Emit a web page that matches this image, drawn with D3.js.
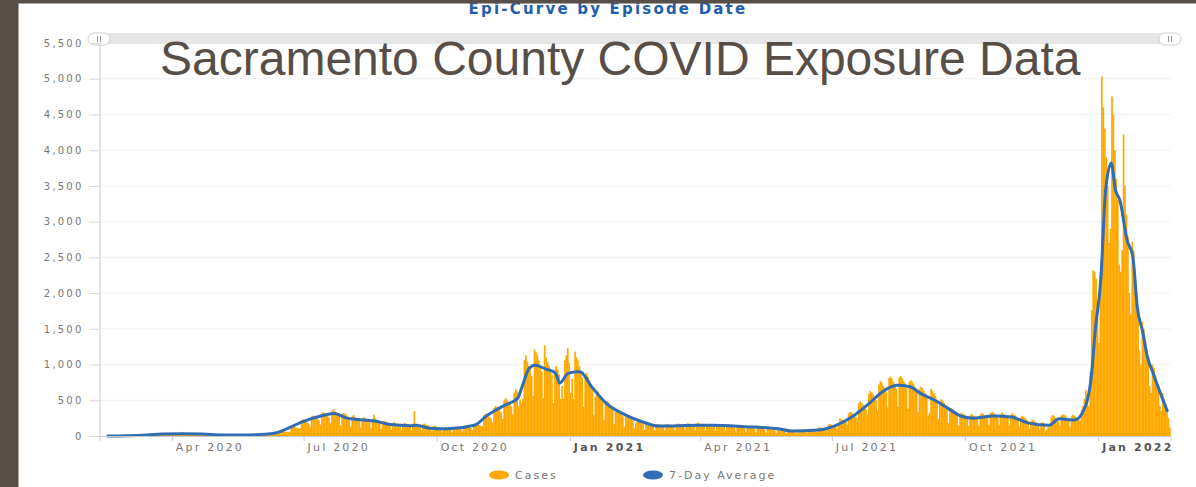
<!DOCTYPE html>
<html>
<head>
<meta charset="utf-8">
<script src="https://cdn.jsdelivr.net/npm/d3@7"></script>
<style>
  body { margin: 0; background: #fff; }
  svg { display: block; }
</style>
</head>
<body>
<script>
// chart box
const d_margin = {top: 43, left: 99.5, right: 1170.5, bottom: 436};
const v_width = 1196, v_height = 487;

// daily cases, one row per week (Sun..Sat), first day 2020-02-16
const startDay = "2020-02-16";
const dailyCases = [
  0,1,2,3,2,3,1,
  1,3,4,3,5,4,2,
  2,5,6,7,6,5,3,
  5,10,12,13,12,11,6,
  12,22,25,24,22,20,14,
  18,34,36,33,35,31,20,
  20,38,36,42,34,33,22,
  22,36,40,58,35,32,20,
  18,35,36,33,32,30,20,
  17,32,33,30,31,28,18,
  14,28,30,28,27,25,16,
  8,18,19,17,16,15,10,
  6,14,15,13,14,12,8,
  7,16,17,15,16,14,9,
  8,14,18,19,17,16,10,
  10,21,22,20,21,19,12,
  16,34,36,35,33,32,29,
  30,62,66,64,60,58,52,
  60,125,135,130,120,115,105,
  110,215,230,220,205,190,175,
  130,275,285,270,255,245,225,
  160,315,335,325,305,285,260,
  180,355,375,345,335,315,290,
  150,305,325,315,295,275,250,
  130,275,295,265,255,245,220,
  120,245,265,255,235,225,205,
  110,235,300,245,225,215,195,
  100,205,215,205,195,185,165,
  90,175,195,185,170,165,150,
  80,150,185,175,165,155,140,
  85,175,350,165,160,155,140,
  80,165,175,160,155,145,130,
  65,135,145,135,125,120,110,
  55,112,122,112,108,102,92,
  58,118,122,118,115,110,98,
  65,132,142,137,127,122,110,
  85,165,180,170,160,155,140,
  140,290,310,300,280,265,245,
  190,390,420,410,380,360,330,
  240,500,530,510,480,450,410,
  300,610,660,630,420,510,470,
  520,1060,1130,1040,980,930,840,
  560,1210,1170,1130,1060,980,900,
  530,1270,1100,1040,980,930,850,
  460,920,980,930,860,520,700,
  520,1060,1130,1230,1030,600,800,
  520,1180,1100,1060,980,900,820,
  410,850,880,830,780,720,650,
  290,550,640,620,580,530,480,
  220,460,490,470,440,410,380,
  170,345,375,355,335,305,275,
  130,275,295,285,265,245,220,
  105,185,235,225,210,195,175,
  90,185,195,185,175,165,150,
  80,155,165,165,155,145,135,
  80,160,170,160,150,145,130,
  85,165,175,170,160,150,135,
  85,170,180,170,165,155,140,
  85,175,185,170,160,155,140,
  80,160,170,160,155,145,130,
  75,155,165,155,145,140,125,
  75,145,160,150,140,135,120,
  65,135,145,135,130,125,110,
  60,125,135,125,120,110,100,
  55,110,120,115,105,100,90,
  50,100,110,100,95,90,80,
  40,86,92,86,82,77,68,
  35,60,88,85,80,75,66,
  38,80,85,82,78,72,64,
  45,92,97,92,87,82,74,
  60,115,125,115,110,100,92,
  80,160,170,160,150,140,128,
  110,150,245,235,225,215,195,
  160,320,340,330,310,290,265,
  230,455,485,465,440,420,380,
  300,590,630,610,580,545,500,
  360,720,770,740,700,670,610,
  400,810,830,800,760,720,660,
  410,820,840,810,770,740,670,
  380,760,780,760,720,680,620,
  330,660,690,670,630,600,550,
  290,330,660,630,600,560,510,
  240,485,515,495,465,435,400,
  180,370,390,380,360,340,310,
  150,310,330,310,300,280,255,
  140,290,310,290,280,260,240,
  145,300,320,310,290,270,250,
  155,320,340,330,310,290,265,
  150,300,330,310,300,280,255,
  150,290,320,300,290,270,245,
  130,260,280,270,250,230,210,
  100,205,225,215,195,185,165,
  90,185,195,175,70,90,130,
  120,255,295,275,255,235,210,
  140,285,305,295,275,255,230,
  130,275,295,285,265,245,220,
  220,360,420,520,640,560,420,
  900,1760,2320,2300,2200,1650,1300,
  2300,5030,4600,4300,3900,3500,2700,
  2900,4750,4500,4000,3600,3300,2400,
  2300,2600,4220,3500,3100,2800,2000,
  1700,2720,2600,2300,2000,1700,1200,
  1000,1600,1500,1350,1200,1050,700,
  600,1000,950,850,750,650,420,
  350,600,520,450,380,250,120
];

// 7-day average
const avgDates = [
  "2020-02-16","2020-03-01","2020-03-15","2020-03-25","2020-04-08","2020-04-22","2020-05-06","2020-05-20",
  "2020-06-01","2020-06-13","2020-06-22","2020-07-01","2020-07-13","2020-07-22","2020-07-31","2020-08-11",
  "2020-08-20","2020-08-30","2020-09-13","2020-09-17","2020-09-26","2020-10-08","2020-10-27","2020-11-05",
  "2020-11-17","2020-11-26","2020-11-29","2020-12-04","2020-12-08","2020-12-15","2020-12-22","2020-12-25",
  "2020-12-31","2021-01-08","2021-01-16","2021-01-26","2021-02-09","2021-02-20","2021-03-03","2021-03-31",
  "2021-04-09","2021-05-02","2021-05-25","2021-06-03","2021-06-22","2021-07-04","2021-07-15","2021-07-27",
  "2021-08-05","2021-08-15","2021-08-24","2021-08-31","2021-09-12","2021-09-19","2021-09-28","2021-10-07",
  "2021-10-21","2021-11-02","2021-11-14","2021-11-28","2021-12-05","2021-12-16","2021-12-21","2021-12-27",
  "2021-12-30","2022-01-03","2022-01-06","2022-01-10","2022-01-13","2022-01-16","2022-01-21","2022-01-25",
  "2022-01-28","2022-02-01","2022-02-04","2022-02-08","2022-02-13","2022-02-18"
];
const avgValues = [
  0,4,15,28,32,28,15,13,
  20,50,125,205,280,315,250,225,
  205,160,145,150,110,100,150,290,
  430,530,690,950,990,940,880,740,
  880,900,690,460,290,200,140,150,
  150,130,100,70,85,150,270,460,
  620,710,690,600,480,390,280,250,
  280,265,180,150,240,225,320,780,
  1480,2230,3400,3820,3440,3300,2740,2510,
  1810,1440,1110,880,600,340
];

const yTicks = [0,500,1000,1500,2000,2500,3000,3500,4000,4500,5000,5500];
const xTickDates = ["2020-04-01","2020-07-01","2020-10-01","2021-01-01","2021-04-01","2021-07-01","2021-10-01","2022-01-01"];
const xTickLabels = ["Apr 2020","Jul 2020","Oct 2020","Jan 2021","Apr 2021","Jul 2021","Oct 2021","Jan 2022"];
const legendNames = ["Cases", "7-Day Average"];

const c_bar = "#ffa800", c_line = "#2f6db5", c_frame = "#584e48";
const parseDay = d3.timeParse("%Y-%m-%d");

var x_sc = d3.scaleTime()
    .domain([parseDay("2020-02-11"), parseDay("2022-02-20")])
    .range([d_margin.left, d_margin.right]);
var y_sc = d3.scaleLinear().domain([0, 5500]).range([d_margin.bottom, d_margin.top]);

const svg = d3.select("body").append("svg")
    .attr("width", v_width)
    .attr("height", v_height);

// chart title (top clipped by frame)
svg.append("text")
    .attr("x", 608).attr("y", 14)
    .attr("text-anchor", "middle")
    .attr("font-family", "DejaVu Sans")
    .attr("font-weight", "bold")
    .attr("font-size", 15)
    .attr("letter-spacing", 2.2)
    .attr("fill", "#1f5db0")
    .text("Epi-Curve by Episode Date");

// grid
svg.append("g").selectAll("line")
    .data(yTicks.filter(d => d > 0))
    .enter().append("line")
    .attr("x1", d_margin.left).attr("x2", d_margin.right)
    .attr("y1", d => y_sc(d)).attr("y2", d => y_sc(d))
    .attr("stroke", "#f0f0f0");

// navigator strip
svg.append("rect")
    .attr("x", 97).attr("y", 33).attr("width", 1078).attr("height", 11)
    .attr("fill", "#e6e6e6");
[99, 1170].forEach(function(hx) {
    var h = svg.append("g").attr("transform", `translate(${hx},39)`);
    h.append("rect").attr("x", -11).attr("y", -6).attr("width", 22).attr("height", 12)
        .attr("rx", 6).attr("fill", "#fff").attr("stroke", "#d0d0d0");
    h.append("line").attr("x1", -1.5).attr("x2", -1.5).attr("y1", -3).attr("y2", 3).attr("stroke", "#999");
    h.append("line").attr("x1", 1.5).attr("x2", 1.5).attr("y1", -3).attr("y2", 3).attr("stroke", "#999");
});

// bars
const day0 = parseDay(startDay);
const a_bars = dailyCases.map(function(v, i) {
    return {date: d3.timeDay.offset(day0, i), value: v};
});
svg.append("g").selectAll("rect")
    .data(a_bars)
    .enter().append("rect")
    .attr("x", d => x_sc(d.date))
    .attr("width", d => x_sc(d3.timeDay.offset(d.date, 1)) - x_sc(d.date) + 0.25)
    .attr("y", d => y_sc(d.value))
    .attr("height", d => y_sc(0) - y_sc(d.value))
    .attr("fill", c_bar);

// 7-day average
const a_avg = avgDates.map((d, i) => ({date: parseDay(d), value: avgValues[i]}));
svg.append("path")
    .datum(a_avg)
    .attr("fill", "none")
    .attr("stroke", c_line)
    .attr("stroke-width", 3)
    .attr("stroke-linejoin", "round")
    .attr("d", d3.line().x(d => x_sc(d.date)).y(d => y_sc(d.value)).curve(d3.curveMonotoneX));

// y axis
const y_axis = svg.append("g")
    .attr("transform", `translate(${d_margin.left},0)`)
    .call(d3.axisLeft(y_sc).tickValues(yTicks).tickFormat(d3.format(",")).tickSize(10).tickPadding(6));
y_axis.select(".domain").attr("stroke", "#c8c8c8");
y_axis.selectAll(".tick line").attr("stroke", "#d8d8d8");
y_axis.selectAll("text")
    .attr("font-family", "DejaVu Sans").attr("font-size", 10)
    .attr("letter-spacing", 2.2).attr("fill", "#777");

// x axis
const x_axis = svg.append("g")
    .attr("transform", `translate(0,${d_margin.bottom})`)
    .call(d3.axisBottom(x_sc).tickValues(xTickDates.map(parseDay)).tickSize(5).tickFormat(""));
x_axis.select(".domain").attr("stroke", "#c8c8c8");
x_axis.selectAll(".tick line").attr("stroke", "#c8c8c8");
svg.append("g").selectAll("text")
    .data(xTickDates)
    .enter().append("text")
    .attr("x", d => x_sc(parseDay(d)) + 4)
    .attr("y", 451)
    .attr("font-family", "DejaVu Sans").attr("font-size", 11)
    .attr("letter-spacing", 2.2)
    .attr("font-weight", (d, i) => xTickLabels[i].startsWith("Jan") ? "bold" : "normal")
    .attr("fill", (d, i) => xTickLabels[i].startsWith("Jan") ? "#555" : "#777")
    .text((d, i) => xTickLabels[i]);

// legend
const leg = svg.append("g").selectAll("g")
    .data(legendNames)
    .enter().append("g")
    .attr("transform", (d, i) => `translate(${[499, 653][i]},475)`);
leg.append("ellipse").attr("rx", 10).attr("ry", 4.5)
    .attr("fill", (d, i) => i == 0 ? c_bar : c_line);
leg.append("text")
    .attr("x", 16).attr("y", 4)
    .attr("font-family", "DejaVu Sans").attr("font-size", 11)
    .attr("letter-spacing", 2)
    .attr("fill", "#777")
    .text(d => d);

// big overlay title
svg.append("text")
    .attr("x", 160).attr("y", 75)
    .attr("font-family", "Liberation Sans, Arial, sans-serif")
    .attr("font-size", 48)
    .attr("fill", c_frame)
    .text("Sacramento County COVID Exposure Data");

// frame
svg.append("rect").attr("x", 0).attr("y", 0).attr("width", v_width).attr("height", 3.5).attr("fill", c_frame);
svg.append("rect").attr("x", 0).attr("y", 0).attr("width", 18.5).attr("height", v_height).attr("fill", c_frame);
</script>
</body>
</html>
